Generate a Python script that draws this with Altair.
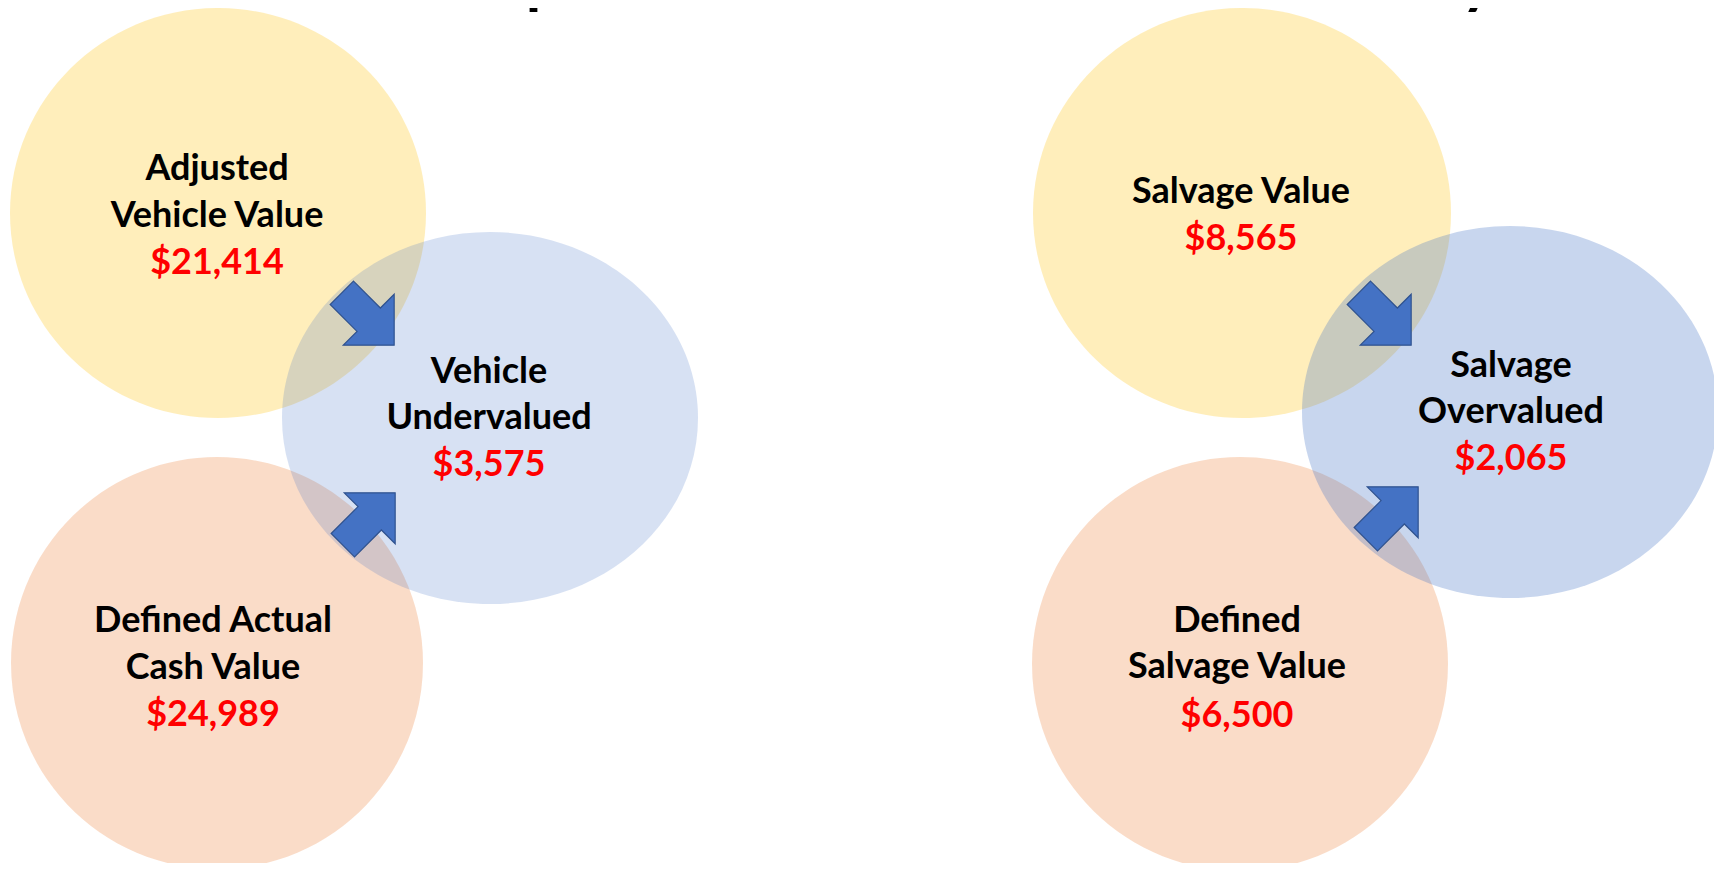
import altair as alt
import pandas as pd

# ---- circles (page-pixel coordinates) ----
circle_name = ["Adjusted Vehicle Value", "Defined Actual Cash Value", "Vehicle Undervalued",
               "Salvage Value", "Defined Salvage Value", "Salvage Overvalued"]
circle_cx = [218, 217, 490, 1242, 1240, 1510]
circle_cy = [213, 663, 418, 213, 664, 412]
circle_rx = [208, 206, 208, 209, 208, 208]
circle_ry = [205, 206, 186, 205, 207, 186]
circle_fill = ["#FFC000", "#ED7D31", "#4472C4", "#FFC000", "#ED7D31", "#4472C4"]
circle_opacity = [0.38, 0.38, 0.30, 0.38, 0.38, 0.42]

# ---- labels ----
label_text = ["Adjusted", "Vehicle Value", "$21,414",
              "Defined Actual", "Cash Value", "$24,989",
              "Vehicle", "Undervalued", "$3,575",
              "Salvage Value", "$8,565",
              "Defined", "Salvage Value", "$6,500",
              "Salvage", "Overvalued", "$2,065"]
label_x = [217, 217, 217, 213, 213, 213, 489, 489, 489,
           1241, 1241, 1237, 1237, 1237, 1511, 1511, 1511]
label_y = [180, 227, 274, 632, 679, 726, 383, 429, 476,
           203, 250, 632, 678, 727, 377, 423, 470]
label_is_value = [False, False, True, False, False, True, False, False, True,
                  False, True, False, False, True, False, False, True]

# ---- arrows ----
arrow_x = [368, 369, 1385, 1392]
arrow_y = [319, 519, 319, 513]
arrow_angle = [45, 315, 45, 315]
arrow_length = 74

title_text = "Example of Economic Total Loss Liability"
title_x = 933
title_y = 1


def ellipse_path(k):
    c = 0.5523
    return (f"M 1 0 C 1 {c*k:.4f} {c:.4f} {k:.4f} 0 {k:.4f} "
            f"C {-c:.4f} {k:.4f} -1 {c*k:.4f} -1 0 "
            f"C -1 {-c*k:.4f} {-c:.4f} {-k:.4f} 0 {-k:.4f} "
            f"C {c:.4f} {-k:.4f} 1 {-c*k:.4f} 1 0 Z")


circles = pd.DataFrame({
    "name": circle_name,
    "x": circle_cx,
    "y": circle_cy,
    "size": [(2 * r) ** 2 for r in circle_rx],
    "path": [ellipse_path(ry / rx) for rx, ry in zip(circle_rx, circle_ry)],
    "fill": circle_fill,
    "op": circle_opacity,
})

labels = pd.DataFrame({
    "text": label_text,
    "x": label_x,
    "y": label_y,
    "color": ["#FF0000" if v else "#000000" for v in label_is_value],
})

arrows = pd.DataFrame({
    "x": arrow_x,
    "y": arrow_y,
    "angle": arrow_angle,
})

title_df = pd.DataFrame({"text": [title_text], "x": [title_x], "y": [title_y]})

W, H = 1706, 855
xs = alt.Scale(domain=[8, 8 + W], nice=False, zero=False)
ys = alt.Scale(domain=[8, 8 + H], nice=False, zero=False, reverse=True)

X = lambda: alt.X("x:Q", scale=xs, axis=None)
Y = lambda: alt.Y("y:Q", scale=ys, axis=None)

circle_layer = alt.Chart(circles).mark_point(filled=True, strokeWidth=0).encode(
    x=X(), y=Y(),
    size=alt.Size("size:Q", scale=None),
    shape=alt.Shape("path:N", scale=None),
    fill=alt.Fill("fill:N", scale=None),
    fillOpacity=alt.FillOpacity("op:Q", scale=None),
)

arrow_path = ("M -1 -0.446 L 0.027 -0.446 L 0.027 -0.973 L 1 0 "
              "L 0.027 0.973 L 0.027 0.446 L -1 0.446 Z")
arrow_layer = alt.Chart(arrows).mark_point(
    shape=arrow_path, filled=True, fill="#4472C4", fillOpacity=1,
    stroke="#2F528F", strokeWidth=1.2, strokeOpacity=1,
    size=arrow_length ** 2,
).encode(
    x=X(), y=Y(),
    angle=alt.Angle("angle:Q", scale=None),
)

label_layer = alt.Chart(labels).mark_text(
    font="Lato", fontWeight="bold", fontSize=36, baseline="alphabetic", align="center"
).encode(
    x=X(), y=Y(), text="text:N",
    color=alt.Color("color:N", scale=None),
)

title_layer = alt.Chart(title_df).mark_text(
    font="Lato", fontWeight="bold", fontSize=63, baseline="alphabetic", align="center",
    color="#000000"
).encode(x=X(), y=Y(), text="text:N")

chart = alt.layer(circle_layer, arrow_layer, label_layer, title_layer).properties(
    width=W, height=H, padding=0,
    autosize=alt.AutoSizeParams(type="none"),
    background="#FFFFFF",
).configure_view(strokeWidth=0)

chart.save("out.html", embed_options={"renderer": "svg", "actions": False})
